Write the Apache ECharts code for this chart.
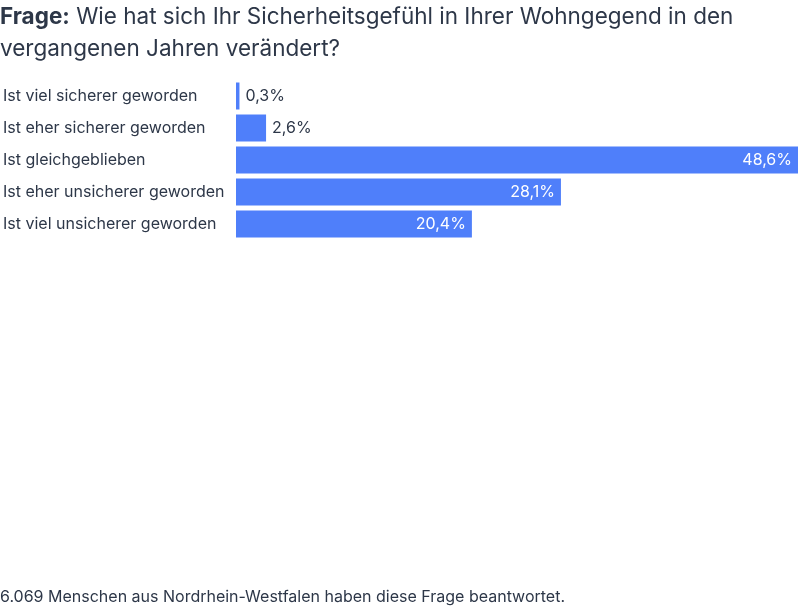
<!DOCTYPE html>
<html>
<head>
<meta charset="utf-8">
<script src="https://cdn.jsdelivr.net/npm/echarts@6/dist/echarts.min.js"></script>
<style>
  html, body { margin: 0; padding: 0; background: #fff; }
  #chart { width: 800px; height: 608px; }
</style>
</head>
<body>
<div id="chart"></div>
<script>
// Antworten (von oben nach unten)
const categories = [
  'Ist viel sicherer geworden',
  'Ist eher sicherer geworden',
  'Ist gleichgeblieben',
  'Ist eher unsicherer geworden',
  'Ist viel unsicherer geworden'
]
const values = [0.3, 2.6, 48.6, 28.1, 20.4]

const textColor = '#2d3748'
const fontFamily = 'Inter, "Noto Sans", sans-serif'

const chart = echarts.init(document.getElementById('chart'))

const option = {
  animation: false,
  textStyle: { fontFamily: fontFamily },
  title: {
    left: 0,
    top: 1,
    padding: 0,
    text: '{b|Frage:} Wie hat sich Ihr Sicherheitsgefühl in Ihrer Wohngegend in den\nvergangenen Jahren verändert?',
    textStyle: {
      fontSize: 22.5,
      fontWeight: 'normal',
      color: textColor,
      lineHeight: 32,
      fontFamily: fontFamily,
      rich: {
        b: { fontSize: 22.5, fontWeight: 'bold', color: textColor, lineHeight: 32, fontFamily: fontFamily }
      }
    }
  },
  graphic: [
    {
      type: 'text',
      left: 0,
      top: 589,
      style: {
        text: '6.069 Menschen aus Nordrhein-Westfalen haben diese Frage beantwortet.',
        fontSize: 16,
        fill: textColor,
        fontFamily: fontFamily
      }
    }
  ],
  grid: {
    left: 235,
    right: 2,
    top: 80,
    height: 160,
    containLabel: false
  },
  xAxis: {
    type: 'value',
    min: 0,
    max: 'dataMax',
    show: false
  },
  yAxis: {
    type: 'category',
    inverse: true,
    data: categories,
    axisLine: { show: false },
    axisTick: { show: false },
    axisLabel: {
      align: 'left',
      margin: 233,
      fontSize: 16,
      color: textColor,
      fontFamily: fontFamily
    }
  },
  series: [
    {
      type: 'bar',
      barWidth: 27,
      itemStyle: { color: '#4f7ffa' },
      data: values.map(v => ({
        value: v,
        label: {
          show: true,
          position: v > 10 ? 'insideRight' : 'right',
          distance: 6,
          color: v > 10 ? '#ffffff' : textColor,
          fontSize: 16,
          fontFamily: fontFamily,
          formatter: p => p.value.toFixed(1).replace('.', ',') + '%'
        }
      }))
    }
  ]
}

chart.setOption(option)
</script>
</body>
</html>
